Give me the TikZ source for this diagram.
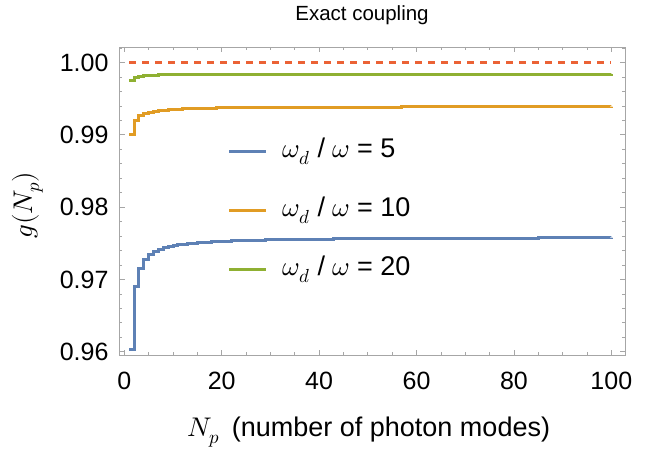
\documentclass[tikz,border=0pt]{standalone}
\usepackage{fontspec}
\setmainfont{Liberation Sans}
\usepackage{unicode-math}
\setmathfont{Latin Modern Math}
\definecolor{cb}{HTML}{5E81B5}
\definecolor{co}{HTML}{E19C24}
\definecolor{cg}{HTML}{8FB032}
\definecolor{cr}{HTML}{EB6235}
\begin{document}
\begin{tikzpicture}[x=1pt,y=-1pt,
  frame/.style={draw=gray!70,line width=0.9pt},
  tk/.style={draw=gray!70,line width=0.7pt},
  curve/.style={line width=3pt,line join=miter},
  lab/.style={font=\fontsize{25}{28}\selectfont},
  leg/.style={font=\fontsize{27}{30}\selectfont,anchor=west}]
\useasboundingbox (0,0) rectangle (664,452);
% frame
\draw[frame] (119,47) rectangle (625,355);
% x ticks
\foreach \n in {0,5,...,100}{
  \pgfmathsetmacro\px{124.3+4.87*\n}
  \pgfmathsetmacro\L{mod(\n,20)==0?5.5:3}
  \draw[tk] (\px,355) -- ++(0,-\L);
  \draw[tk] (\px,47) -- ++(0,\L);}
% y ticks
\foreach \k in {0,...,21}{
  \pgfmathsetmacro\py{351.7-14.46*\k}
  \pgfmathsetmacro\L{mod(\k,5)==0?5.5:3}
  \draw[tk] (119,\py) -- ++(\L,0);
  \draw[tk] (625,\py) -- ++(-\L,0);}
% tick labels
\foreach \n in {0,20,40,60,80,100}{
  \node[lab] (xl\n) at ({124.3+4.87*\n},381) {\n};}
\foreach \v/\k in {0.96/0,0.97/1,0.98/2,0.99/3,1.00/4}{
  \node[lab,anchor=east] (yl\k) at (112,{351.7-72.3*\k}) {\v};}
% reference line
\draw[cr,line width=2.6pt,dash pattern=on 7pt off 6pt] (129,62.5) -- (611,62.5);
% curves
\draw[curve,cb] plot[const plot,domain=1:100,samples=100] ({124.3+4.87*\x},{237+28/(\x*\x)+84/\x});
\draw[curve,co] plot[const plot,domain=1:100,samples=100] ({124.3+4.87*\x},{106.5+28/\x});
\draw[curve,cg] plot[const plot,domain=1:100,samples=100] ({124.3+4.87*\x},{74+7/\x});
% legend
\draw[curve,cb] (229,151) -- (266,151);
\draw[curve,co] (229,210) -- (266,210);
\draw[curve,cg] (229,269) -- (266,269);
\node[leg] (l1) at (279,151) {$\omega_d$ / $\omega$ = 5};
\node[leg] (l2) at (279,210) {$\omega_d$ / $\omega$ = 10};
\node[leg] (l3) at (279,269) {$\omega_d$ / $\omega$ = 20};
% titles
\node[font=\fontsize{20.5}{24}\selectfont] (t) at (362,15) {Exact coupling};
\node[font=\fontsize{27}{30}\selectfont] (xt) at (369,432) {$N_p$ \,(number of photon modes)};
\node[font=\fontsize{27}{30}\selectfont,rotate=90] (yt) at (28,205) {$g(N_p)$};
\end{tikzpicture}
\end{document}
